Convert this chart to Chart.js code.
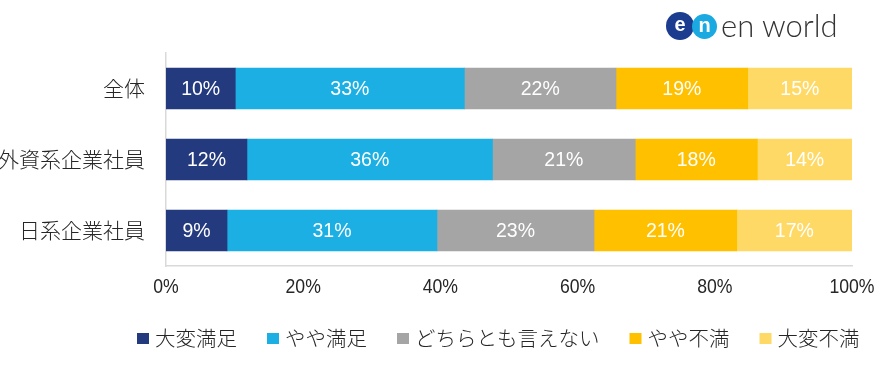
<!DOCTYPE html>
<html lang="ja">
<head>
<meta charset="utf-8">
<script src="https://cdn.jsdelivr.net/npm/chart.js@4.4.1/dist/chart.umd.min.js"></script>
<style>
  html, body { margin: 0; padding: 0; background: #fff; }
  #wrap { position: relative; width: 882px; height: 365px; }
  #chart { position: absolute; left: 0; top: 0; }
  .dot { position: absolute; border-radius: 50%; color: #fff; font: bold 20px Arial, "Liberation Sans", sans-serif;
         display: flex; align-items: center; justify-content: center; }
  #dot1 { left: 666px; top: 12px; width: 28px; height: 28px; background: #1c3d8f; }
  #dot2 { left: 692px; top: 14px; width: 25px; height: 25px; background: #1aa9e1; }
  #brand { position: absolute; left: 721px; top: 6px; font: 300 31px Lato, "Open Sans", sans-serif; color: #333; white-space: nowrap; }
</style>
</head>
<body>
<div id="wrap">
  <canvas id="chart" width="882" height="365"></canvas>
  <div class="dot" id="dot1"><span style="margin-top:-3px">e</span></div>
  <div class="dot" id="dot2"><span style="margin-top:-3px">n</span></div>
  <div id="brand">en world</div>
</div>
<script>
// categories and series (percent of respondents)
const categories = ['全体', '外資系企業社員', '日系企業社員'];
const seriesNames = ['大変満足', 'やや満足', 'どちらとも言えない', 'やや不満', '大変不満'];
const verySatisfied = [10.1, 11.8, 8.9];
const somewhatSatisfied = [33.4, 35.8, 30.6];
const neutral = [22.1, 20.8, 22.9];
const somewhatDissatisfied = [19.2, 17.8, 20.8];
const veryDissatisfied = [15.2, 13.8, 16.8];
const xTicks = [0, 20, 40, 60, 80, 100];

const colors = ['#243a7e', '#1cafe3', '#a5a5a5', '#ffc000', '#ffd966'];
const seriesValues = [verySatisfied, somewhatSatisfied, neutral, somewhatDissatisfied, veryDissatisfied];

const cjkFont = '"Noto Sans CJK JP", "Noto Sans", sans-serif';

// white % labels in the middle of each segment
const barLabels = {
    id: 'barLabels',
    afterDatasetsDraw(chart) {
        const ctx = chart.ctx;
        ctx.save();
        ctx.fillStyle = '#fff';
        ctx.font = '19.5px "Liberation Sans", Arial, sans-serif';
        ctx.textAlign = 'center';
        ctx.textBaseline = 'middle';
        chart.data.datasets.forEach((ds, i) => {
            chart.getDatasetMeta(i).data.forEach((bar, j) => {
                const cx = (bar.x + bar.base) / 2;
                ctx.fillText(Math.round(ds.data[j]) + '%', cx, bar.y + 1);
            });
        });
        ctx.restore();
    }
};

// x tick labels in a narrow face (squeezed Liberation Sans)
const narrowTicks = {
    id: 'narrowTicks',
    afterDraw(chart) {
        const ctx = chart.ctx;
        const xs = chart.scales.x;
        ctx.save();
        ctx.font = '21px "Liberation Sans", Arial, sans-serif';
        ctx.fillStyle = '#262626';
        ctx.textAlign = 'center';
        ctx.textBaseline = 'middle';
        xTicks.forEach(v => {
            const px = xs.getPixelForValue(v);
            ctx.save();
            ctx.translate(px, 287);
            ctx.scale(0.84, 1);
            ctx.fillText(v + '%', 0, 0);
            ctx.restore();
        });
        ctx.restore();
    }
};

// legend row under the axis
const bottomLegend = {
    id: 'bottomLegend',
    afterDraw(chart) {
        const ctx = chart.ctx;
        ctx.save();
        ctx.font = '300 20.5px ' + cjkFont;
        ctx.textBaseline = 'middle';
        let x = 137;
        const y = 338.5;
        chart.data.datasets.forEach(ds => {
            ctx.fillStyle = ds.backgroundColor;
            ctx.fillRect(x, y - 5.5, 12, 11);
            x += 18;
            ctx.fillStyle = '#262626';
            ctx.fillText(ds.label, x, y);
            x += ctx.measureText(ds.label).width + 30;
        });
        ctx.restore();
    }
};

new Chart(document.getElementById('chart'), {
    type: 'bar',
    data: {
        labels: categories,
        datasets: seriesNames.map((name, i) => ({
            label: name,
            data: seriesValues[i],
            backgroundColor: colors[i],
            borderWidth: 0,
            barThickness: 41
        }))
    },
    options: {
        indexAxis: 'y',
        responsive: false,
        animation: false,
        layout: { padding: { top: 53, right: 30, left: 0, bottom: 0 } },
        plugins: {
            legend: { display: false },
            tooltip: { enabled: false }
        },
        scales: {
            x: {
                stacked: true,
                min: 0,
                max: 100,
                afterBuildTicks: axis => { axis.ticks = xTicks.map(v => ({ value: v })); },
                afterFit: axis => { axis.height = 99; },
                grid: { display: false, drawTicks: false },
                border: { color: '#d9d9d9', width: 1.5 },
                ticks: { display: false }
            },
            y: {
                stacked: true,
                afterFit: axis => { axis.width = 166; },
                grid: { display: false, drawTicks: false },
                border: { color: '#d9d9d9', width: 1.5 },
                ticks: {
                    padding: 21,
                    color: '#262626',
                    font: { family: cjkFont, size: 21, weight: '300' }
                }
            }
        }
    },
    plugins: [barLabels, narrowTicks, bottomLegend]
});
</script>
</body>
</html>
